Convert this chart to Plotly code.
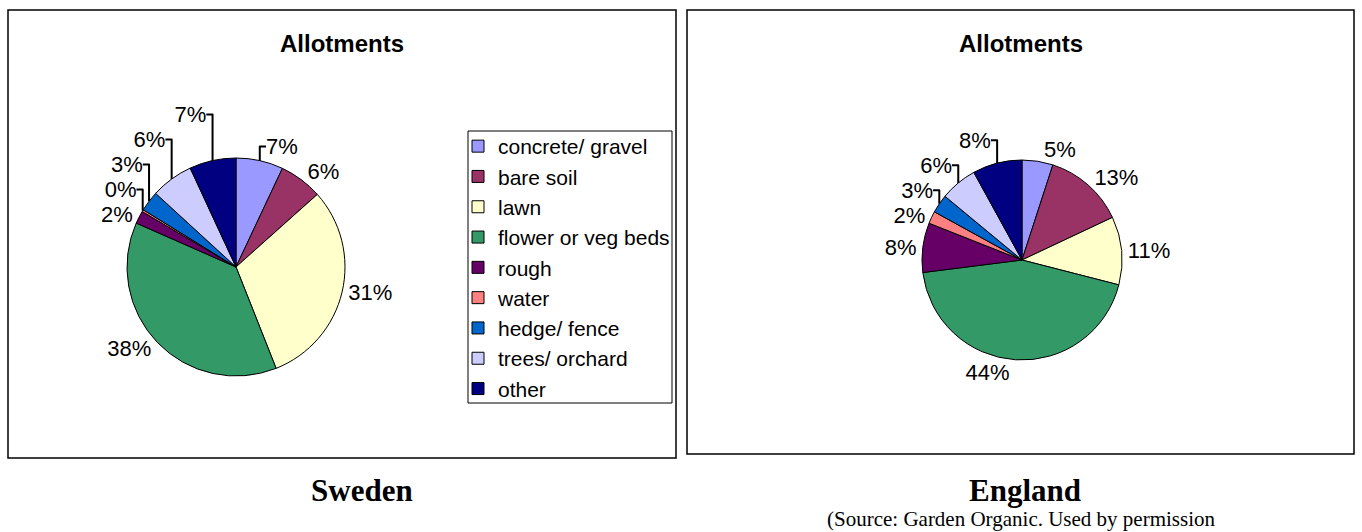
import plotly.graph_objects as go

categories = ["concrete/ gravel", "bare soil", "lawn", "flower or veg beds", "rough",
              "water", "hedge/ fence", "trees/ orchard", "other"]
sweden_values = [7.0, 6.4, 30.6, 37.6, 1.9, 0.3, 3.0, 6.3, 6.9]
england_values = [5, 13, 11, 44, 8, 2, 3, 6, 8]
colors = ["#9999FF", "#993366", "#FFFFCC", "#339966", "#660066",
          "#FF8080", "#0066CC", "#CCCCFF", "#000080"]

W, H = 1362, 532
def px(x):
    return x / W
def py(y):
    return 1 - y / H

fig = go.Figure()
common = dict(
    labels=categories, sort=False, direction="clockwise", rotation=0,
    marker=dict(colors=colors, line=dict(color="black", width=1)),
    textposition="outside", texttemplate="%{percent:.0%}",
    textfont=dict(family="Arial, Liberation Sans", size=22, color="black"),
    hoverinfo="label+percent",
)
fig.add_trace(go.Pie(values=sweden_values, name="Sweden",
                     domain=dict(x=[px(127), px(345)], y=[py(376), py(158)]),
                     showlegend=True, **common))
fig.add_trace(go.Pie(values=england_values, name="England",
                     domain=dict(x=[px(922), px(1122)], y=[py(360), py(160)]),
                     showlegend=False, **common))

shapes = [
    dict(type="rect", xref="paper", yref="paper", x0=px(8), x1=px(676), y0=py(458), y1=py(10),
         line=dict(color="black", width=1.5), fillcolor="rgba(0,0,0,0)"),
    dict(type="rect", xref="paper", yref="paper", x0=px(687), x1=px(1354), y0=py(454), y1=py(10),
         line=dict(color="black", width=1.5), fillcolor="rgba(0,0,0,0)"),
    # legend frame
    dict(type="rect", xref="paper", yref="paper", x0=px(468), x1=px(672), y0=py(403), y1=py(131),
         line=dict(color="black", width=1), fillcolor="rgba(0,0,0,0)"),
]
def ann(text, x, y, family, size):
    return dict(text=text, x=px(x), y=py(y), xref="paper", yref="paper",
                xanchor="center", yanchor="middle", showarrow=False,
                font=dict(family=family, size=size, color="black"))

SANS = "Arial, Liberation Sans"
SERIF = "Times New Roman, Liberation Serif"
annotations = [
    ann("<b>Allotments</b>", 342, 44, SANS, 24),
    ann("<b>Allotments</b>", 1021, 44, SANS, 24),
    ann("<b>Sweden</b>", 362, 490, SERIF, 31),
    ann("<b>England</b>", 1025, 490, SERIF, 31),
    ann("(Source: Garden Organic. Used by permission", 1021, 519, SERIF, 21),
]

fig.update_layout(
    width=W, height=H, margin=dict(l=0, r=0, t=0, b=0),
    paper_bgcolor="white", plot_bgcolor="white",
    shapes=shapes, annotations=annotations,
    legend=dict(x=px(458), y=py(126), xanchor="left", yanchor="top",
                borderwidth=0, bgcolor="rgba(0,0,0,0)",
                font=dict(family=SANS, size=21, color="black"),
                itemwidth=30, traceorder="normal"),
)
fig.write_html("out.html")
